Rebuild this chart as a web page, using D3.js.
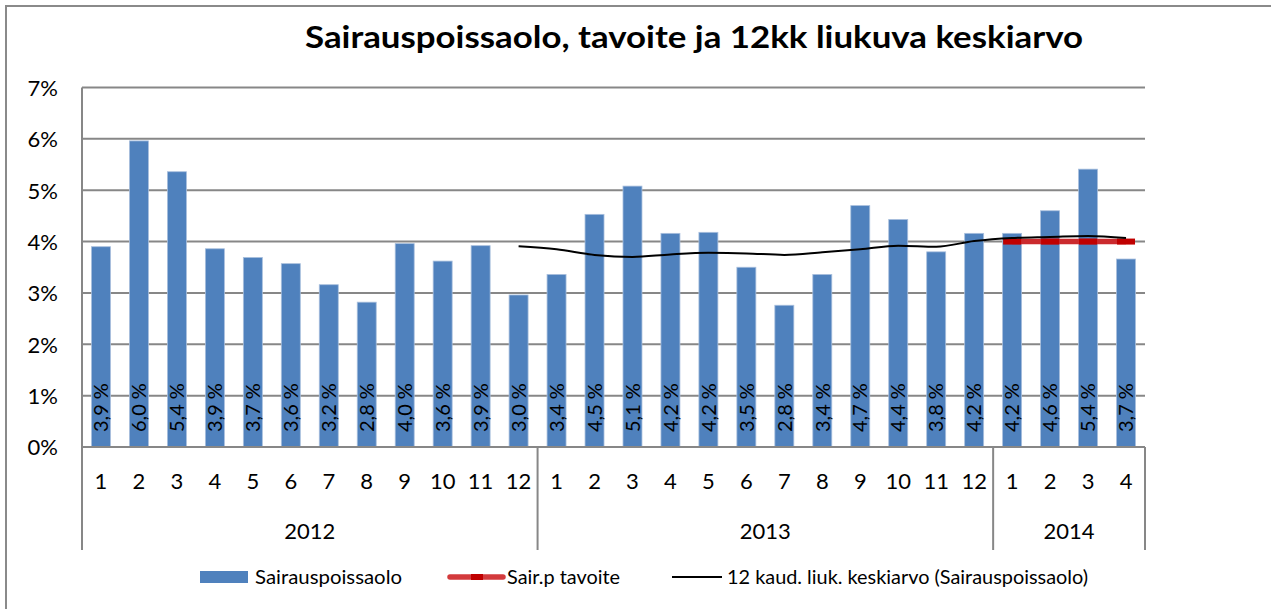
<!DOCTYPE html>
<html>
<head>
<meta charset="utf-8">
<script src="https://cdn.jsdelivr.net/npm/d3@7"></script>
<style>
  body { margin: 0; background: #fff; }
  svg { display: block; font-family: Lato, "Open Sans", sans-serif; }
</style>
</head>
<body>
<svg id="chart" width="1271" height="609"></svg>
<script>
// Month labels along the lower axis, grouped by year
const months = ["1","2","3","4","5","6","7","8","9","10","11","12",
                "1","2","3","4","5","6","7","8","9","10","11","12",
                "1","2","3","4"];
const years = ["2012", "2013", "2014"];
const monthsPerYear = [12, 12, 4];

// Monthly sick-leave rate, percent
const sickLeave = [3.90, 5.96, 5.36, 3.86, 3.69, 3.57, 3.16, 2.82, 3.96, 3.62, 3.92, 2.96,
                   3.36, 4.53, 5.08, 4.16, 4.18, 3.50, 2.76, 3.36, 4.70, 4.43, 3.80, 4.16,
                   4.16, 4.60, 5.41, 3.66];

// Target level, defined for the 2014 months (index 24..27)
const targetStart = 24;
const target = [4.0, 4.0, 4.0, 4.0];

// 12-month moving average, first available at December 2012 (index 11)
const avgStart = 11;
const movingAvg = [3.91, 3.85, 3.74, 3.70, 3.75, 3.78, 3.77, 3.74, 3.79, 3.85,
                   3.92, 3.90, 4.01, 4.07, 4.09, 4.11, 4.07];

const yTicks = [0, 1, 2, 3, 4, 5, 6, 7];

const title = "Sairauspoissaolo, tavoite ja 12kk liukuva keskiarvo";
const legendLabels = ["Sairauspoissaolo", "Sair.p tavoite", "12 kaud. liuk. keskiarvo (Sairauspoissaolo)"];

const svg = d3.select("#chart");
const W = 1271, H = 609;
const plot = { left: 82, right: 1145, top: 87.5, bottom: 447 };
const axisBottom = 550;
const gridColor = "#878787";
const barColor = "#4F81BD";

// Outer chart frame (extends past the visible page on right and bottom)
svg.append("rect").attr("x", 0).attr("y", 0).attr("width", W).attr("height", H).attr("fill", "#fff");
svg.append("rect")
  .attr("x", 6).attr("y", 6).attr("width", W + 40).attr("height", H + 40)
  .attr("fill", "none").attr("stroke", "#8a8a8a").attr("stroke-width", 2);

const idx = d3.range(months.length);
const x = d3.scaleBand().domain(idx).range([plot.left, plot.right])
  .paddingInner(0.5).paddingOuter(0.25);
const step = x.step();
const cx = i => x(i) + x.bandwidth() / 2;
const y = d3.scaleLinear().domain([0, 7]).range([plot.bottom, plot.top]);

// Horizontal gridlines
svg.append("g").selectAll("line").data(yTicks.filter(t => t > 0)).join("line")
  .attr("x1", plot.left).attr("x2", plot.right)
  .attr("y1", d => y(d)).attr("y2", d => y(d))
  .attr("stroke", gridColor).attr("stroke-width", 2);

// Value axis with percent labels
const yAxis = d3.axisLeft(y).tickValues(yTicks).tickSize(0).tickPadding(24)
  .tickFormat(d => d + "%");
const gy = svg.append("g").attr("transform", `translate(${plot.left},0)`).call(yAxis);
gy.select(".domain").attr("stroke", gridColor).attr("stroke-width", 2)
  .attr("d", `M0,${plot.top}V${axisBottom}`);
gy.selectAll("text").attr("font-size", 22).attr("fill", "#000")
  .attr("font-family", "Lato, sans-serif").attr("dy", "0.36em");

// Bars
svg.append("g").selectAll("rect").data(sickLeave).join("rect")
  .attr("x", (d, i) => x(i))
  .attr("width", x.bandwidth())
  .attr("y", d => y(d))
  .attr("height", d => y(0) - y(d))
  .attr("fill", barColor)
  .attr("stroke", "#a8bfdd").attr("stroke-width", 0.8);

// Rotated value labels inside the bars
svg.append("g").selectAll("text").data(sickLeave).join("text")
  .attr("transform", (d, i) => `translate(${cx(i)},${plot.bottom - 15}) rotate(-90)`)
  .attr("dy", "0.36em")
  .attr("text-anchor", "start")
  .attr("font-size", 20)
  .attr("fill", "#000")
  .text(d => d.toFixed(1).replace(".", ",") + " %");

// Category axis: baseline, year separators, month and year labels
const gx = svg.append("g");
gx.append("line").attr("x1", plot.left).attr("x2", plot.right)
  .attr("y1", plot.bottom).attr("y2", plot.bottom)
  .attr("stroke", gridColor).attr("stroke-width", 2);
const yearBounds = [0];
monthsPerYear.forEach(n => yearBounds.push(yearBounds[yearBounds.length - 1] + n));
gx.selectAll("line.sep").data(yearBounds).join("line").attr("class", "sep")
  .attr("x1", d => plot.left + d * step).attr("x2", d => plot.left + d * step)
  .attr("y1", plot.bottom).attr("y2", axisBottom)
  .attr("stroke", gridColor).attr("stroke-width", 2);
gx.selectAll("text.month").data(months).join("text").attr("class", "month")
  .attr("x", (d, i) => cx(i)).attr("y", 481).attr("dy", "0.36em")
  .attr("text-anchor", "middle").attr("font-size", 22).attr("fill", "#000")
  .text(d => d);
gx.selectAll("text.year").data(years).join("text").attr("class", "year")
  .attr("x", (d, i) => plot.left + (yearBounds[i] + yearBounds[i + 1]) / 2 * step)
  .attr("y", 531).attr("dy", "0.36em")
  .attr("text-anchor", "middle").attr("font-size", 22).attr("fill", "#000")
  .text(d => d);

// Target line with dash markers
const tgt = target.map((v, k) => ({ i: targetStart + k, v }));
svg.append("path").datum(tgt)
  .attr("d", d3.line().x(d => cx(d.i)).y(d => y(d.v)))
  .attr("fill", "none").attr("stroke", "#cb2a2e").attr("stroke-width", 5.5);
svg.append("g").selectAll("rect").data(tgt).join("rect")
  .attr("x", d => cx(d.i) - 9).attr("width", 18)
  .attr("y", d => y(d.v) - 3).attr("height", 6)
  .attr("fill", "#c00000");

// 12-month moving average
const avg = movingAvg.map((v, k) => ({ i: avgStart + k, v }));
svg.append("path").datum(avg)
  .attr("d", d3.line().x(d => cx(d.i)).y(d => y(d.v)).curve(d3.curveMonotoneX))
  .attr("fill", "none").attr("stroke", "#000").attr("stroke-width", 2);

// Title
svg.append("text")
  .attr("x", 694).attr("y", 48)
  .attr("text-anchor", "middle")
  .attr("font-size", 31).attr("font-weight", "bold").attr("fill", "#000")
  .attr("textLength", 778).attr("lengthAdjust", "spacingAndGlyphs")
  .text(title);

// Legend
const lg = svg.append("g");
const ly = 577;
lg.append("rect").attr("x", 200).attr("y", ly - 6).attr("width", 48).attr("height", 12).attr("fill", barColor);
lg.append("line").attr("x1", 450).attr("x2", 503).attr("y1", ly).attr("y2", ly)
  .attr("stroke", "#d33a3c").attr("stroke-width", 5.5).attr("stroke-linecap", "round");
lg.append("rect").attr("x", 471).attr("y", ly - 3).attr("width", 12).attr("height", 6).attr("fill", "#c00000");
lg.append("line").attr("x1", 672).attr("x2", 722).attr("y1", ly).attr("y2", ly)
  .attr("stroke", "#000").attr("stroke-width", 2);
const legendX = [255, 507, 727];
const legendW = [147, 113, 361];
lg.selectAll("text").data(legendLabels).join("text")
  .attr("x", (d, i) => legendX[i]).attr("y", ly).attr("dy", "0.36em")
  .attr("font-size", 19).attr("fill", "#000")
  .attr("textLength", (d, i) => legendW[i]).attr("lengthAdjust", "spacingAndGlyphs")
  .text(d => d);
</script>
</body>
</html>
